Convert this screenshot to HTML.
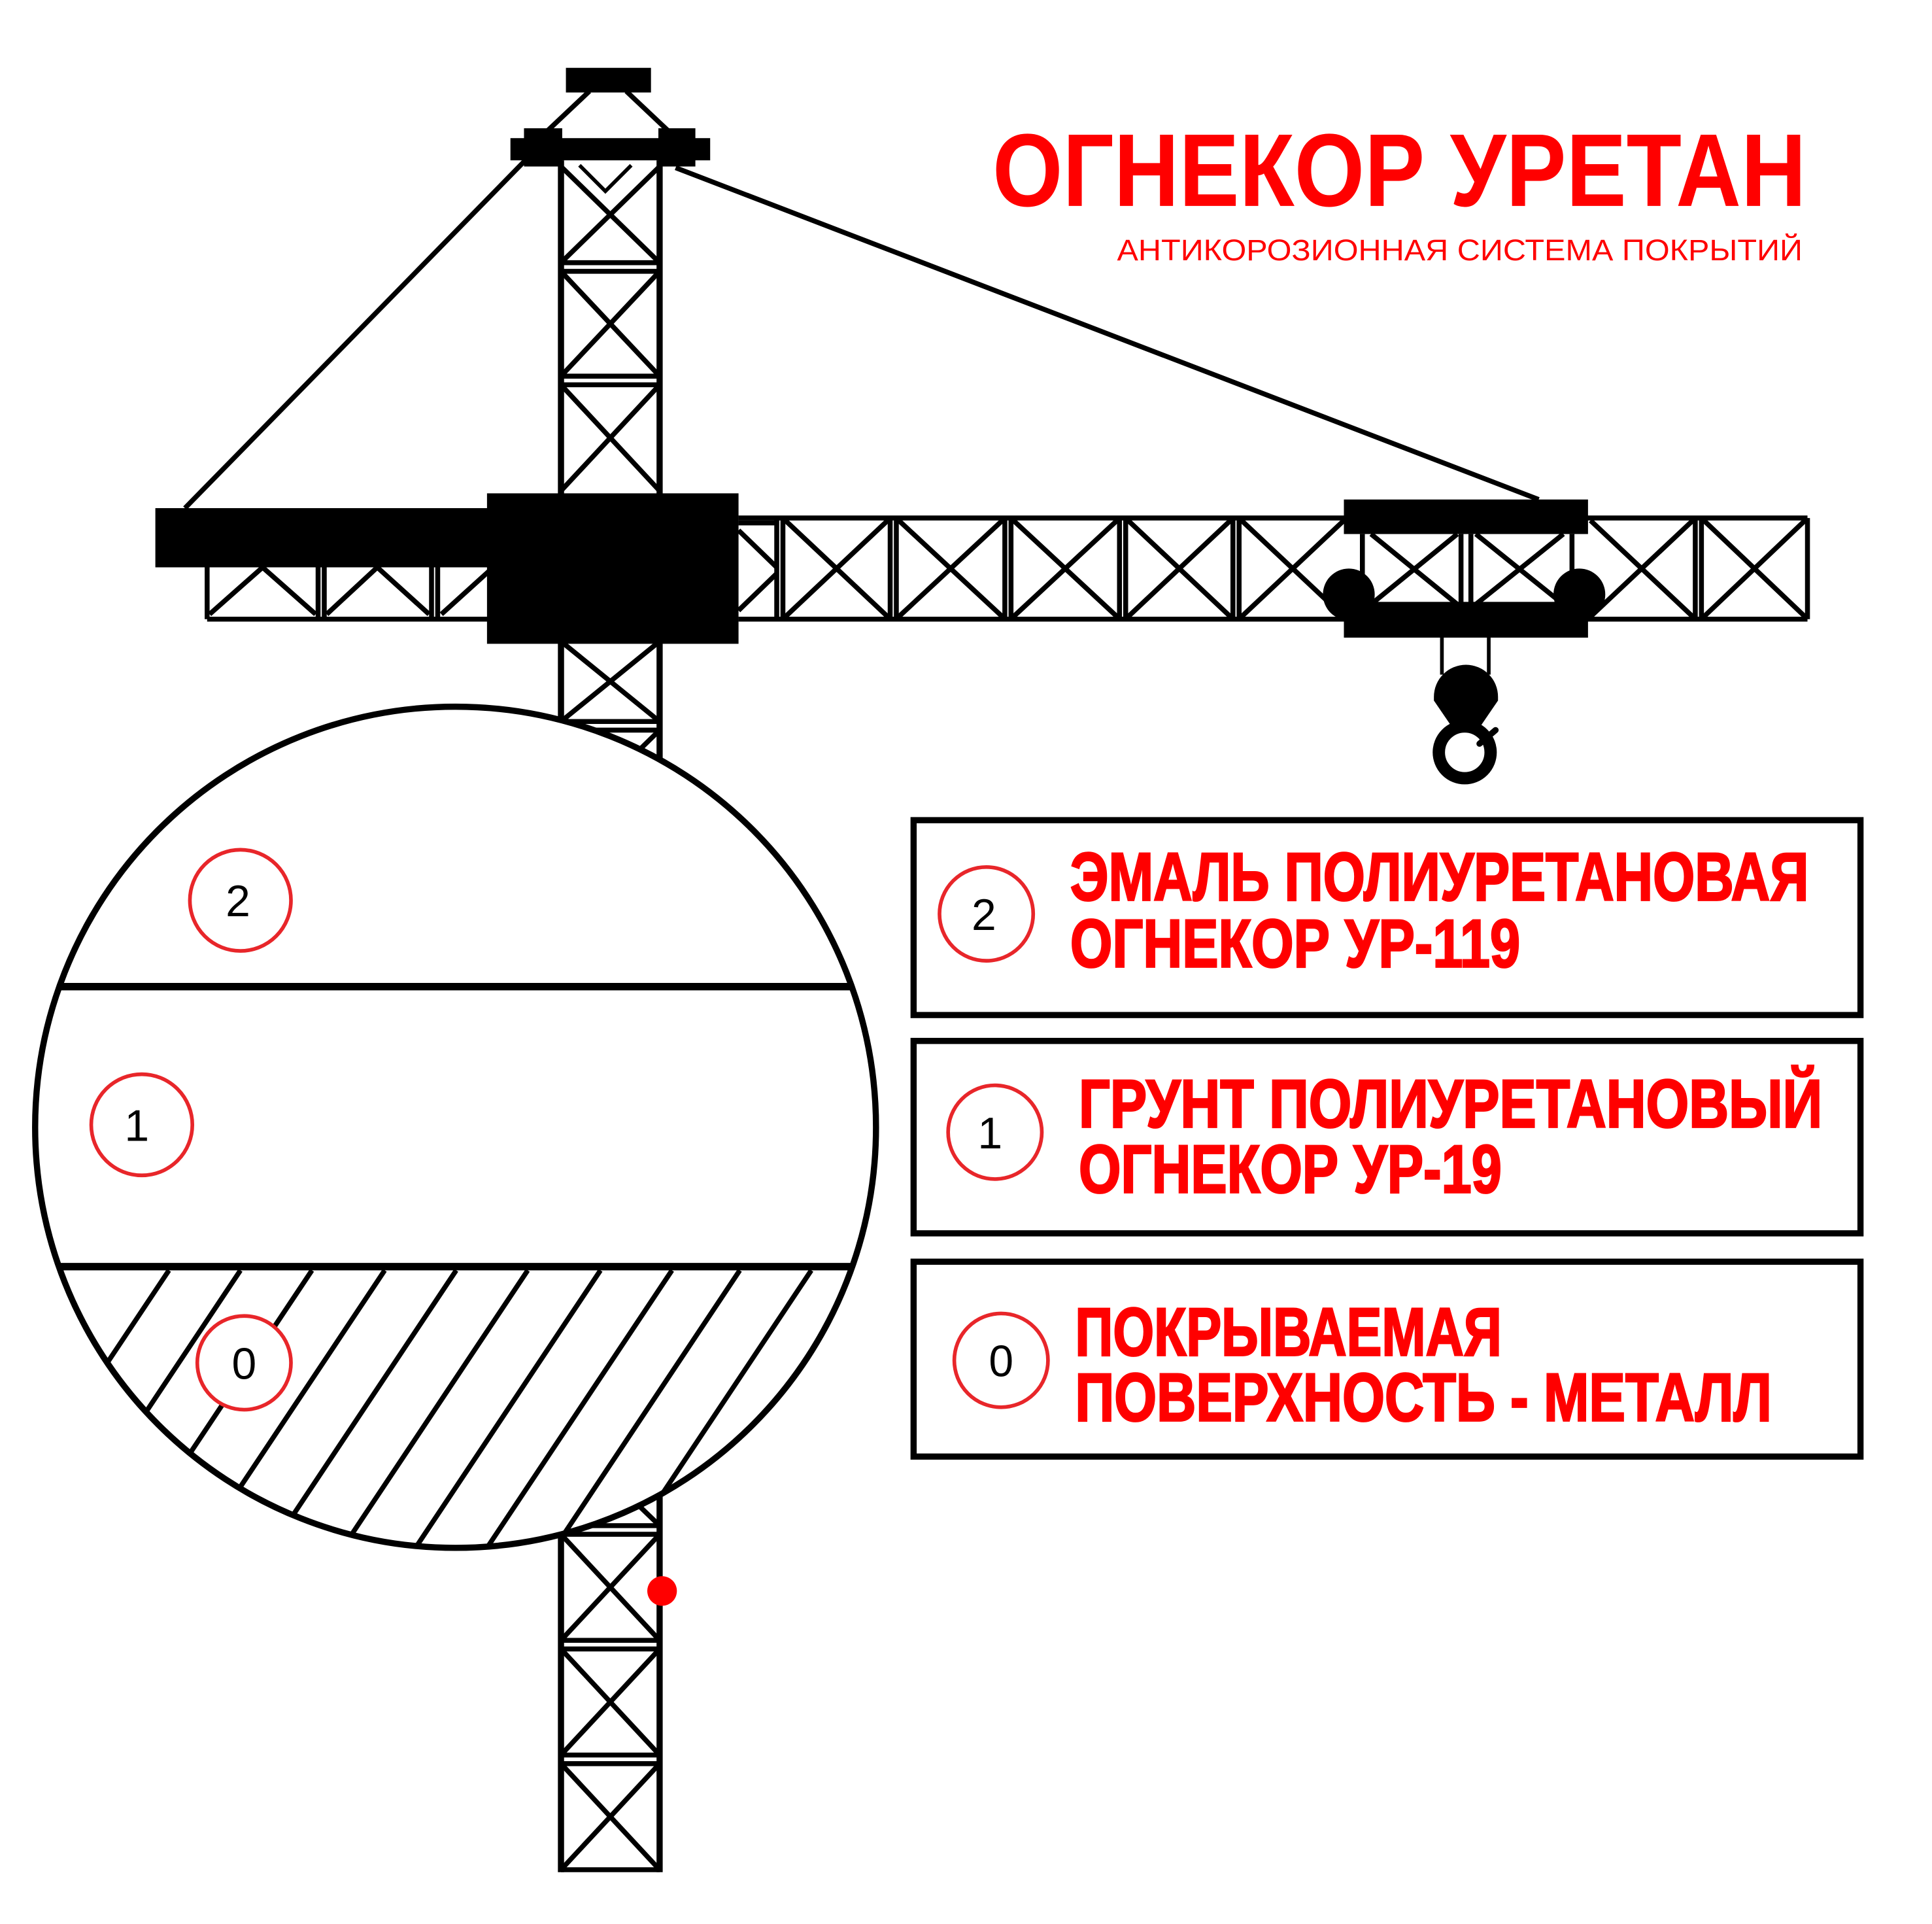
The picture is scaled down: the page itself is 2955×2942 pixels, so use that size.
<!DOCTYPE html>
<html><head><meta charset="utf-8"><style>html,body{margin:0;padding:0;background:#fff}svg{display:block}</style></head>
<body>
<svg width="2955" height="2942" viewBox="0 0 1567 1560" preserveAspectRatio="none" xmlns="http://www.w3.org/2000/svg">
<defs><clipPath id="lowseg"><rect x="0" y="1030" width="800" height="300"/></clipPath>
<clipPath id="circ"><circle cx="369.5" cy="914" r="341"/></clipPath></defs>
<rect width="1567" height="1560" fill="#fff"/>
<g stroke="#000" fill="none" stroke-width="4">
<line x1="428" y1="128" x2="150" y2="412"/>
<line x1="548" y1="136" x2="1248" y2="405"/>
<line x1="478" y1="74" x2="442" y2="108"/>
<line x1="508" y1="74" x2="544" y2="108"/>
<polyline points="470,134 491,155 512,134" stroke-width="3"/>
<line x1="455" y1="130" x2="455" y2="1518" stroke-width="5"/>
<line x1="535" y1="130" x2="535" y2="1518" stroke-width="5"/>
<g stroke-width="4">
<line x1="455" y1="213" x2="535" y2="213"/><line x1="455" y1="220" x2="535" y2="220"/>
<line x1="455" y1="305" x2="535" y2="305"/><line x1="455" y1="312" x2="535" y2="312"/>
<line x1="455" y1="135" x2="535" y2="213"/><line x1="535" y1="135" x2="455" y2="213"/>
<line x1="455" y1="220" x2="535" y2="305"/><line x1="535" y1="220" x2="455" y2="305"/>
<line x1="455" y1="312" x2="535" y2="398"/><line x1="535" y1="312" x2="455" y2="398"/>
<line x1="455" y1="585" x2="535" y2="585"/><line x1="455" y1="592" x2="535" y2="592"/>
<line x1="455" y1="520" x2="535" y2="585"/><line x1="535" y1="520" x2="455" y2="585"/>
<line x1="455" y1="592" x2="535" y2="670"/><line x1="535" y1="592" x2="455" y2="670"/>
<line x1="455" y1="1237" x2="535" y2="1237"/><line x1="455" y1="1244" x2="535" y2="1244"/>
<line x1="455" y1="1330" x2="535" y2="1330"/><line x1="455" y1="1337" x2="535" y2="1337"/>
<line x1="455" y1="1423" x2="535" y2="1423"/><line x1="455" y1="1430" x2="535" y2="1430"/>
<line x1="455" y1="1516" x2="535" y2="1516"/>
<line x1="455" y1="1160" x2="535" y2="1237"/><line x1="535" y1="1160" x2="455" y2="1237"/>
<line x1="455" y1="1244" x2="535" y2="1330"/><line x1="535" y1="1244" x2="455" y2="1330"/>
<line x1="455" y1="1337" x2="535" y2="1423"/><line x1="535" y1="1337" x2="455" y2="1423"/>
<line x1="455" y1="1430" x2="535" y2="1516"/><line x1="535" y1="1430" x2="455" y2="1516"/>
</g>
<line x1="168" y1="455" x2="168" y2="502"/><line x1="168" y1="502" x2="400" y2="502"/>
<line x1="258" y1="455" x2="258" y2="502"/><line x1="263" y1="455" x2="263" y2="502"/>
<line x1="350" y1="455" x2="350" y2="502"/><line x1="355" y1="455" x2="355" y2="502"/>
<polyline points="170,498 213,460 256,498"/><polyline points="265,498 306,460 348,498"/><polyline points="358,498 400,460"/>
<line x1="599" y1="420" x2="1466" y2="420"/><line x1="599" y1="502" x2="1466" y2="502"/>
<line x1="1466" y1="420" x2="1466" y2="502"/>
<line x1="599" y1="424" x2="630" y2="424"/>
</g>
<g stroke="#000" stroke-width="4">
<line x1="630" y1="420" x2="630" y2="502"/><line x1="635" y1="420" x2="635" y2="502"/>
<line x1="722" y1="420" x2="722" y2="502"/><line x1="727" y1="420" x2="727" y2="502"/>
<line x1="815" y1="420" x2="815" y2="502"/><line x1="820" y1="420" x2="820" y2="502"/>
<line x1="908" y1="420" x2="908" y2="502"/><line x1="913" y1="420" x2="913" y2="502"/>
<line x1="1000" y1="420" x2="1000" y2="502"/><line x1="1005" y1="420" x2="1005" y2="502"/>
<line x1="1375" y1="420" x2="1375" y2="502"/><line x1="1380" y1="420" x2="1380" y2="502"/>
<line x1="599" y1="430" x2="630" y2="460"/><line x1="599" y1="495" x2="630" y2="465"/>
<line x1="637" y1="422" x2="720" y2="500"/><line x1="720" y1="422" x2="637" y2="500"/>
<line x1="729" y1="422" x2="813" y2="500"/><line x1="813" y1="422" x2="729" y2="500"/>
<line x1="822" y1="422" x2="906" y2="500"/><line x1="906" y1="422" x2="822" y2="500"/>
<line x1="915" y1="422" x2="998" y2="500"/><line x1="998" y1="422" x2="915" y2="500"/>
<line x1="1007" y1="422" x2="1090" y2="500"/><line x1="1090" y1="422" x2="1007" y2="500"/>
<line x1="1290" y1="422" x2="1373" y2="500"/><line x1="1373" y1="422" x2="1290" y2="500"/>
<line x1="1382" y1="422" x2="1464" y2="500"/><line x1="1464" y1="422" x2="1382" y2="500"/>
<line x1="1105" y1="433" x2="1105" y2="490"/><line x1="1185" y1="433" x2="1185" y2="490"/><line x1="1193" y1="433" x2="1193" y2="490"/><line x1="1275" y1="433" x2="1275" y2="490"/>
<line x1="1112" y1="433" x2="1182" y2="490"/><line x1="1182" y1="433" x2="1112" y2="490"/>
<line x1="1197" y1="433" x2="1268" y2="490"/><line x1="1268" y1="433" x2="1197" y2="490"/>
</g>
<g fill="#000">
<rect x="459" y="55" width="69" height="20"/>
<rect x="414" y="112" width="162" height="18"/>
<rect x="425" y="104" width="31" height="31"/>
<rect x="534" y="104" width="30" height="31"/>
<rect x="126" y="412" width="274" height="48"/>
<rect x="395" y="400" width="204" height="122"/>
<rect x="1090" y="405" width="198" height="28"/>
<rect x="1090" y="488" width="198" height="29"/>
<circle cx="1094" cy="482" r="21"/>
<circle cx="1281" cy="482" r="21"/>
<rect x="1168" y="517" width="3" height="30"/><rect x="1206" y="517" width="3" height="30"/>
<path d="M1163,565 A26,26 0 0 1 1215,565 L1215,568 L1200,590 L1178,590 L1163,568 Z"/>
</g>
<circle cx="1188" cy="610" r="21" fill="none" stroke="#000" stroke-width="10"/>
<line x1="1200" y1="603" x2="1213" y2="592" stroke="#000" stroke-width="5" stroke-linecap="round"/>
<circle cx="369.5" cy="914" r="341" fill="#fff" stroke="#000" stroke-width="5"/>
<g clip-path="url(#circ)">
<g clip-path="url(#lowseg)" stroke="#000" stroke-width="4">
<line x1="137" y1="1030" x2="-63" y2="1330"/>
<line x1="195" y1="1030" x2="-5" y2="1330"/>
<line x1="253" y1="1030" x2="53" y2="1330"/>
<line x1="312" y1="1030" x2="112" y2="1330"/>
<line x1="370" y1="1030" x2="170" y2="1330"/>
<line x1="428" y1="1030" x2="228" y2="1330"/>
<line x1="487" y1="1030" x2="287" y2="1330"/>
<line x1="545" y1="1030" x2="345" y2="1330"/>
<line x1="600" y1="1030" x2="400" y2="1330"/>
<line x1="658" y1="1030" x2="458" y2="1330"/>
</g>
<line x1="0" y1="800" x2="760" y2="800" stroke="#000" stroke-width="6"/>
<line x1="0" y1="1027" x2="760" y2="1027" stroke="#000" stroke-width="6"/>
</g>
<circle cx="537" cy="1290" r="12" fill="#f00"/>
<g fill="#fff" stroke="#e8262a" stroke-width="3">
<circle cx="195" cy="730" r="41"/><circle cx="115" cy="912" r="41"/><circle cx="198" cy="1105" r="38"/>
<circle cx="800" cy="741" r="38"/><circle cx="807" cy="918" r="38"/><circle cx="812" cy="1103" r="38"/>
</g>
<g font-family="Liberation Sans, sans-serif" font-size="36" fill="#000" text-anchor="middle">
<text x="193" y="743">2</text><text x="111" y="925">1</text><text x="198" y="1118">0</text>
<text x="798" y="754">2</text><text x="803" y="931">1</text><text x="812" y="1116">0</text>
</g>
<g fill="none" stroke="#000" stroke-width="5">
<rect x="741" y="665" width="768" height="158"/>
<rect x="741" y="844" width="768" height="156"/>
<rect x="741" y="1023" width="768" height="158"/>
</g>
<g font-family="Liberation Sans, sans-serif" font-weight="bold" fill="#f00">
<text x="805" y="167" font-size="84" textLength="660" lengthAdjust="spacingAndGlyphs">ОГНЕКОР УРЕТАН</text>
<text x="906" y="211" font-size="24" font-weight="normal" textLength="556" lengthAdjust="spacingAndGlyphs">АНТИКОРОЗИОННАЯ СИСТЕМА ПОКРЫТИЙ</text>
<g font-size="55" stroke="#f00" stroke-width="1.5">
<text x="868" y="730" textLength="599" lengthAdjust="spacingAndGlyphs">ЭМАЛЬ ПОЛИУРЕТАНОВАЯ</text>
<text x="868" y="784" textLength="365" lengthAdjust="spacingAndGlyphs">ОГНЕКОР УР-119</text>
<text x="875" y="914" textLength="603" lengthAdjust="spacingAndGlyphs">ГРУНТ  ПОЛИУРЕТАНОВЫЙ</text>
<text x="875" y="967" textLength="343" lengthAdjust="spacingAndGlyphs">ОГНЕКОР УР-19</text>
<text x="872" y="1099" textLength="346" lengthAdjust="spacingAndGlyphs">ПОКРЫВАЕМАЯ</text>
<text x="872" y="1152" textLength="565" lengthAdjust="spacingAndGlyphs">ПОВЕРХНОСТЬ - МЕТАЛЛ</text>
</g>
</g>
</svg>
</body></html>
